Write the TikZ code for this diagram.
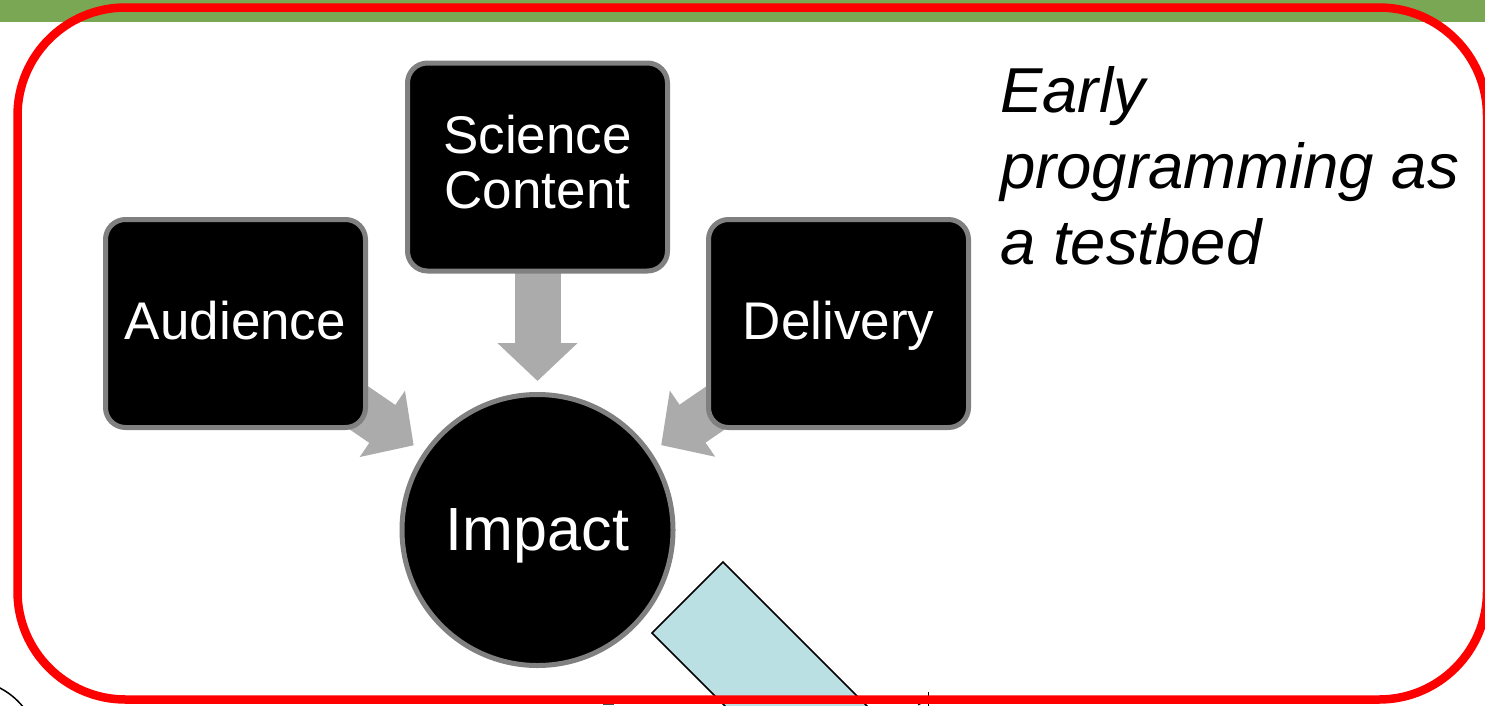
\documentclass[tikz,border=0pt]{standalone}
\usepackage{fontspec}
\setmainfont{Liberation Sans}
\usetikzlibrary{arrows.meta}
\pgfdeclarelayer{back}
\pgfsetlayers{back,main}

\definecolor{barGreen}{HTML}{7AA753}
\definecolor{frameRed}{HTML}{FF0000}
\definecolor{edgeGray}{HTML}{808080}
\definecolor{flowGray}{HTML}{ABABAB}
\definecolor{paleBlue}{HTML}{BBE0E3}

\begin{document}
\begin{tikzpicture}[x=1pt,y=-1pt,
  box/.style={draw=edgeGray, line width=5pt, fill=black, rounded corners=20pt,
    minimum width=260pt, minimum height=208pt, text=white, align=center,
    inner sep=0pt, font=\fontsize{53}{55}\selectfont},
  oneline/.style={text height=39pt, text depth=8pt},
  hub/.style={circle, draw=edgeGray, line width=5pt, fill=black,
    minimum size=271pt, inner sep=0pt, text=white, text depth=0pt,
    font=\fontsize{61}{64}\selectfont},
  flow/.style={draw=flowGray, line width=46pt, -{Triangle[width=78pt,length=38pt]}},
  note/.style={anchor=north west, align=left, inner sep=0pt,
    font=\itshape\fontsize{63.5}{76}\selectfont}]

\useasboundingbox (0,0) rectangle (1485,705);
\clip (0,0) rectangle (1485,705);

% title bar strip
\fill[barGreen] (0,0) rectangle (1485,22);

% shapes peeking in from below
\filldraw[fill=paleBlue, draw=black, line width=1.6pt]
  (723,562) -- (652,633) -- (852,833) -- (923,762) -- cycle;
\draw[line width=1.5pt] (-2,687) .. controls (8,692) and (16,698) .. (24,708);
\draw[line width=1.5pt, black!70] (603,704.5) -- (614,704.5);
\draw[line width=1pt] (928,692) -- (928,706);
\draw[line width=1pt] (918,705) -- (924,702);

% the four concept nodes
\node[box, text depth=10pt] (sci) at (537.5,167) {Science\\Content};
\node[box, oneline] (aud) at (235.5,323.5) {Audience};
\node[box, oneline] (del) at (838.5,323.5) {Delivery};
\node[hub] (imp) at (537.5,530) {Impact};

% block arrows converging on the hub
\begin{pgfonlayer}{back}
  \draw[flow, shorten >=11pt] (sci.center) -- (imp);
  \draw[flow, shorten >=12pt] (aud.center) -- (imp);
  \draw[flow, shorten >=12pt] (del.center) -- (imp);
\end{pgfonlayer}

% side remark
\node[note] (remark) at (1000,66) {Early\\programming as\\a testbed};

% red outline frame
\draw[frameRed, line width=8.5pt, rounded corners=108pt]
  (17.5,7.5) rectangle (1487,699.5);
\end{tikzpicture}
\end{document}
